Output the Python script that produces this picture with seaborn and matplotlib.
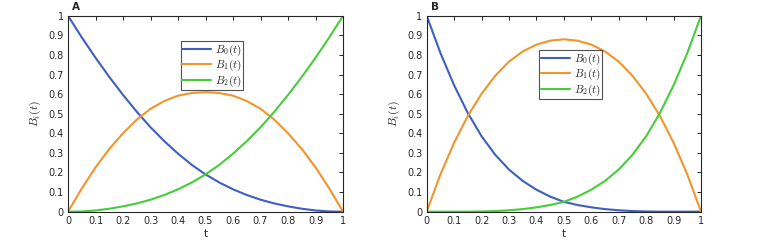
import numpy as np
import pandas as pd
import matplotlib
matplotlib.use("Agg")
import matplotlib.pyplot as plt
import seaborn as sns

# ---- data ----
t_values = [0.00, 0.05, 0.10, 0.15, 0.20, 0.25, 0.30, 0.35, 0.40, 0.45, 0.50,
            0.55, 0.60, 0.65, 0.70, 0.75, 0.80, 0.85, 0.90, 0.95, 1.00]

a_B0 = [1.000, 0.890, 0.786, 0.688, 0.596, 0.510, 0.431, 0.360, 0.296, 0.239, 0.190,
        0.149, 0.114, 0.085, 0.061, 0.042, 0.027, 0.015, 0.006, 0.001, 0.000]
a_B1 = [0.000, 0.118, 0.226, 0.320, 0.400, 0.470, 0.525, 0.565, 0.592, 0.606, 0.610,
        0.606, 0.592, 0.565, 0.525, 0.470, 0.400, 0.320, 0.226, 0.118, 0.000]
a_B2 = [0.000, 0.001, 0.006, 0.015, 0.027, 0.042, 0.061, 0.085, 0.114, 0.149, 0.190,
        0.239, 0.296, 0.360, 0.431, 0.510, 0.596, 0.688, 0.786, 0.890, 1.000]

b_B0 = [1.000, 0.810, 0.645, 0.503, 0.385, 0.290, 0.215, 0.157, 0.112, 0.077, 0.050,
        0.034, 0.022, 0.013, 0.007, 0.003, 0.001, 0.000, 0.000, 0.000, 0.000]
b_B1 = [0.000, 0.190, 0.352, 0.489, 0.602, 0.694, 0.766, 0.818, 0.853, 0.873, 0.880,
        0.873, 0.853, 0.818, 0.766, 0.694, 0.602, 0.489, 0.352, 0.190, 0.000]
b_B2 = [0.000, 0.000, 0.000, 0.000, 0.001, 0.003, 0.007, 0.013, 0.022, 0.034, 0.050,
        0.077, 0.112, 0.157, 0.215, 0.290, 0.385, 0.503, 0.645, 0.810, 1.000]

series_names = [r"$B_0(t)$", r"$B_1(t)$", r"$B_2(t)$"]
panel_labels = ["A", "B"]
tick_values = [0, 0.1, 0.2, 0.3, 0.4, 0.5, 0.6, 0.7, 0.8, 0.9, 1]
tick_labels = ["0", "0.1", "0.2", "0.3", "0.4", "0.5", "0.6", "0.7", "0.8", "0.9", "1"]

colors = ["#3d5fc0", "#f0952c", "#47cc3a"]

sns.set_style("white")
plt.rcParams["font.family"] = ["DejaVu Sans"]
plt.rcParams["mathtext.fontset"] = "cm"

fig = plt.figure(figsize=(7.59, 2.43), dpi=100)
axA = fig.add_axes([0.0896, 0.129, 0.3624, 0.806])
axB = fig.add_axes([0.5622, 0.129, 0.3614, 0.806])

panels = [(axA, [a_B0, a_B1, a_B2], (0.41, 0.87)),
          (axB, [b_B0, b_B1, b_B2], (0.41, 0.825))]

for (ax, ys, lpos), lab in zip(panels, panel_labels):
    frames = []
    for name, y in zip(series_names, ys):
        frames.append(pd.DataFrame({"t": t_values, "B": y, "series": name}))
    df = pd.concat(frames, ignore_index=True)
    sns.lineplot(data=df, x="t", y="B", hue="series", palette=colors,
                 hue_order=series_names, linewidth=1.5, ax=ax)
    ax.set_xlim(0, 1)
    ax.set_ylim(0, 1)
    ax.set_xticks(tick_values)
    ax.set_xticklabels(tick_labels)
    ax.set_yticks(tick_values)
    ax.set_yticklabels(tick_labels)
    ax.tick_params(direction="in", length=3, width=0.7, top=True, right=True,
                   labelsize=7, colors="#262626", pad=3)
    for s in ax.spines.values():
        s.set_visible(True)
        s.set_color("#262626")
        s.set_linewidth(0.8)
    ax.set_xlabel("t", fontsize=7.5, color="#262626", labelpad=2)
    ax.set_ylabel(r"$B_i(t)$", fontsize=8.5, color="#262626", labelpad=4)
    leg = ax.legend(loc="upper left", bbox_to_anchor=lpos, fontsize=8,
                    frameon=True, fancybox=False, edgecolor="#262626",
                    borderpad=0.15, labelspacing=0.0, handlelength=2.6,
                    handletextpad=0.35, borderaxespad=0)
    leg.get_frame().set_linewidth(0.8)
    ax.text(0.015, 1.045, lab, transform=ax.transAxes, fontsize=7.5,
            fontweight="bold", ha="left", va="center")

fig.savefig("out.png", dpi=100)
